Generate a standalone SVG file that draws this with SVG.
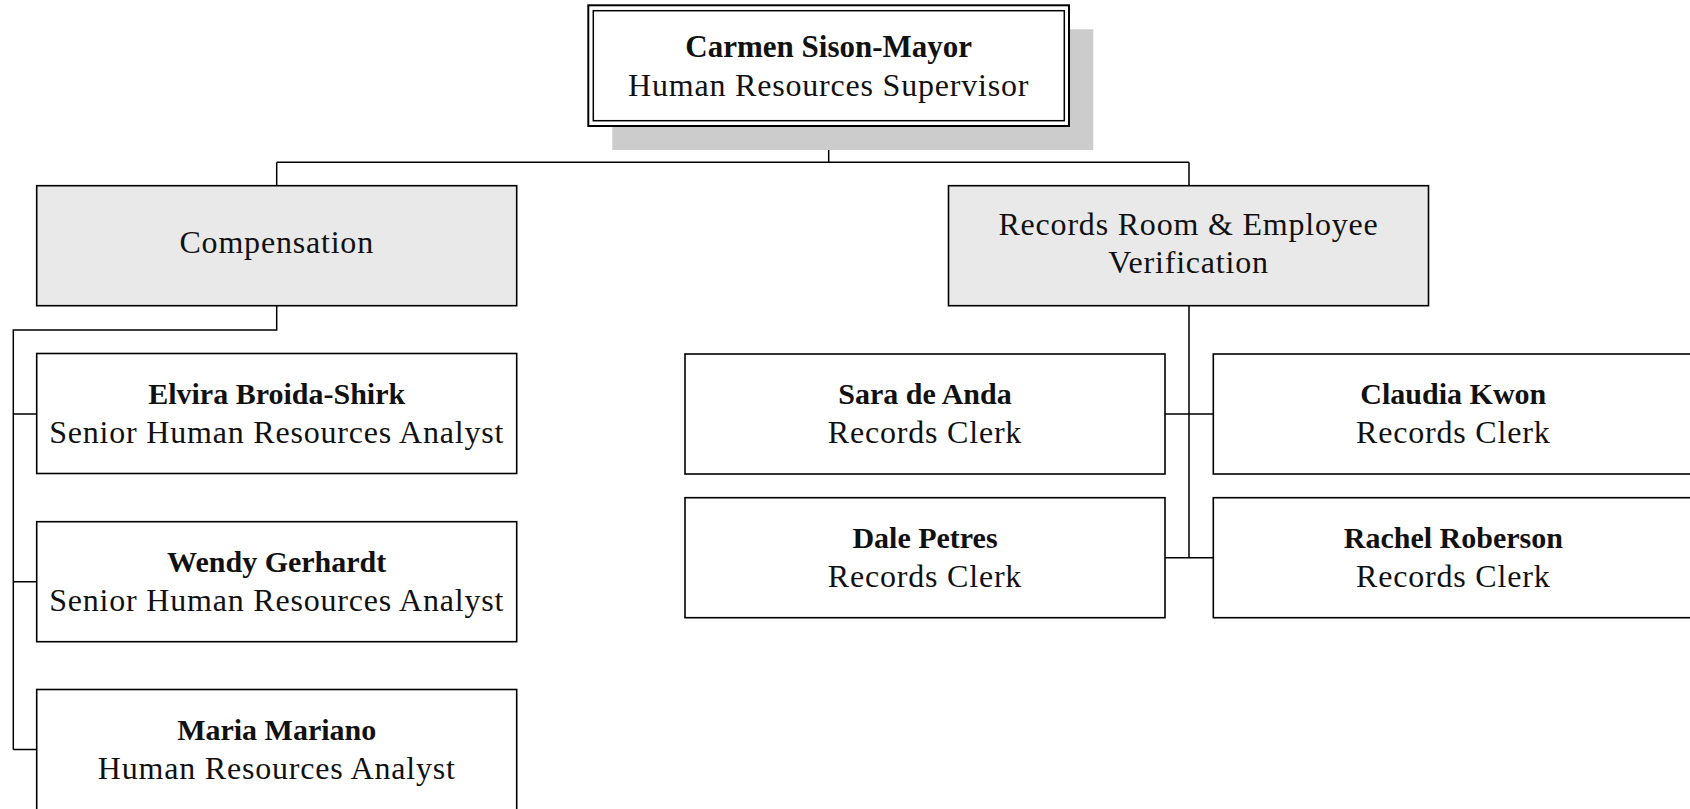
<svg xmlns="http://www.w3.org/2000/svg" width="1690" height="809" viewBox="0 0 1690 809">
<style>
.box{fill:#ffffff;stroke:#000;stroke-width:1.6}
.dept{fill:#e9e9e9;stroke:#000;stroke-width:1.6}
.conn{fill:none;stroke:#000;stroke-width:1.5}
text{font-family:"Liberation Serif","Times New Roman",serif;fill:#111;text-anchor:middle}
.name{font-size:30px;font-weight:bold}
.title{font-size:32px;letter-spacing:0.8px}
</style>
<rect width="1690" height="809" fill="#ffffff"/>
<g id="connectors">
<path class="conn" d="M828.7 126 V162.3 M276.7 162.3 H1189 M276.7 162.3 V185.7 M1189 162.3 V185.7"/>
<path class="conn" d="M276.7 305.7 V330 H13.3 V749.5 M13.3 414 H36.7 M13.3 581.7 H36.7 M13.3 749.5 H36.7"/>
<path class="conn" d="M1189 305.7 V557.7 M1165 414 H1213.3 M1165 557.7 H1213.3"/>
</g>
<g id="supervisor">
<rect x="612.3" y="29.3" width="481" height="120.7" fill="#cccccc"/>
<rect x="588.3" y="5.3" width="480.7" height="120.7" fill="#ffffff" stroke="#000" stroke-width="2"/>
<rect x="593.3" y="10.7" width="471" height="110" fill="none" stroke="#000" stroke-width="1.5"/>
<text class="name" x="828.7" y="57" style="font-size:31px">Carmen Sison-Mayor</text>
<text class="title" x="828.7" y="96">Human Resources Supervisor</text>
</g>
<g id="compensation">
<rect class="dept" x="36.7" y="185.7" width="480" height="120"/>
<text class="title" x="276.7" y="253">Compensation</text>
</g>
<g id="records">
<rect class="dept" x="948.5" y="185.7" width="480" height="120"/>
<text class="title" x="1188.5" y="235">Records Room &amp; Employee</text>
<text class="title" x="1188.5" y="273">Verification</text>
</g>
<g id="elvira">
<rect class="box" x="36.7" y="353.5" width="480" height="120"/>
<text class="name" x="276.7" y="403.5">Elvira Broida-Shirk</text>
<text class="title" x="276.7" y="442.5">Senior Human Resources Analyst</text>
</g>
<g id="wendy">
<rect class="box" x="36.7" y="521.7" width="480" height="120"/>
<text class="name" x="276.7" y="571.7">Wendy Gerhardt</text>
<text class="title" x="276.7" y="610.7">Senior Human Resources Analyst</text>
</g>
<g id="maria">
<rect class="box" x="36.7" y="689.5" width="480" height="121"/>
<text class="name" x="276.7" y="739.5">Maria Mariano</text>
<text class="title" x="276.7" y="778.5">Human Resources Analyst</text>
</g>
<g id="sara">
<rect class="box" x="685" y="354" width="480" height="120"/>
<text class="name" x="925" y="404">Sara de Anda</text>
<text class="title" x="925" y="443">Records Clerk</text>
</g>
<g id="claudia">
<rect class="box" x="1213.3" y="354" width="480" height="120"/>
<text class="name" x="1453.3" y="404">Claudia Kwon</text>
<text class="title" x="1453.3" y="443">Records Clerk</text>
</g>
<g id="dale">
<rect class="box" x="685" y="497.7" width="480" height="120"/>
<text class="name" x="925" y="547.7">Dale Petres</text>
<text class="title" x="925" y="586.7">Records Clerk</text>
</g>
<g id="rachel">
<rect class="box" x="1213.3" y="497.7" width="480" height="120"/>
<text class="name" x="1453.3" y="547.7">Rachel Roberson</text>
<text class="title" x="1453.3" y="586.7">Records Clerk</text>
</g>
</svg>
